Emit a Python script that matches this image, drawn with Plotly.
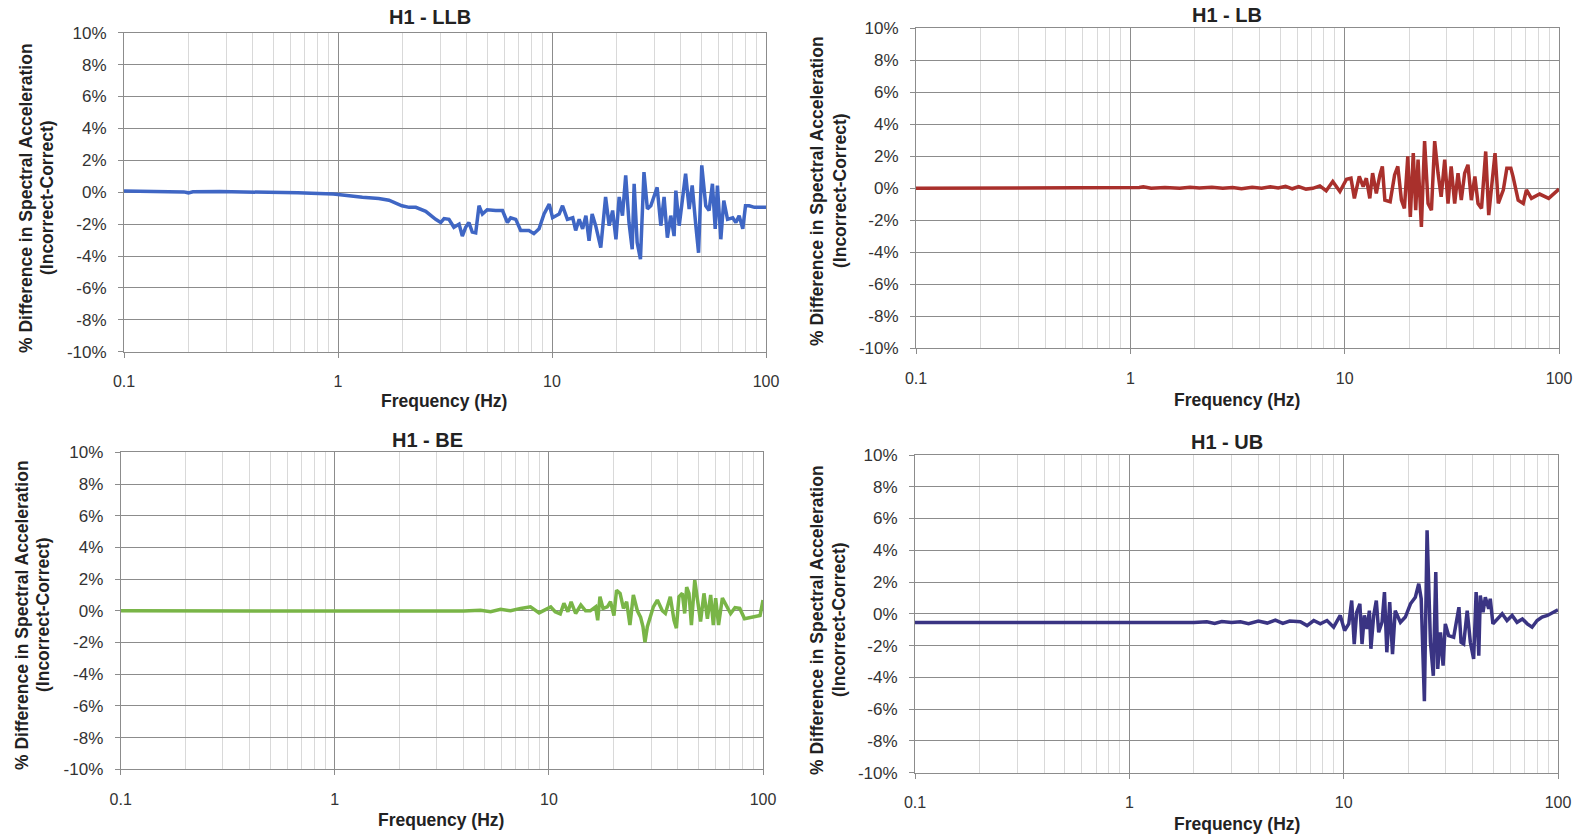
import plotly.graph_objects as go

W, H = 1583, 837

# ---------------- data: % difference in spectral acceleration vs frequency ----------------
llb_freq = [0.1, 0.13, 0.17, 0.19, 0.2, 0.21, 0.28, 0.33, 0.35, 0.37, 0.45, 0.55, 0.65, 0.75, 0.85,
            0.95, 1.0, 1.08, 1.13, 1.3, 1.55, 1.73, 1.99, 2.15, 2.31, 2.57, 2.86, 3.02, 3.13, 3.3,
            3.48, 3.68, 3.81, 3.95, 4.09, 4.24, 4.40, 4.56, 4.73, 4.98, 5.46, 5.87, 6.19, 6.41, 6.77,
            7.14, 7.80, 8.23, 8.70, 9.18, 9.71, 10.06, 10.8, 11.2, 11.8, 12.5, 12.9, 13.4, 13.9, 14.4,
            14.9, 15.4, 16.0, 16.9, 17.8, 18.5, 19.2, 19.9, 20.6, 21.35, 22.1, 22.9, 23.7, 24.2, 25.0,
            25.9, 26.9, 27.9, 28.96, 30.0, 31.0, 32.25, 33.4, 34.6, 35.9, 37.2, 37.9, 39.3, 40.7, 42.1,
            43.75, 45.2, 47.0, 48.4, 50.1, 52.3, 54.2, 56.2, 57.9, 59.3, 61.5, 63.5, 66.1, 69.9, 72.3,
            74.9, 77.9, 80.2, 83.5, 88.3, 100]
llb_diff = [0.08, 0.06, 0.05, 0.02, -0.04, 0.03, 0.04, 0.03, -0.02, 0.03, -0.01, -0.02, -0.04, -0.07, -0.08,
            -0.12, -0.15, -0.2, -0.28, -0.32, -0.4, -0.5, -0.85, -0.95, -0.95, -1.2, -1.7, -1.9, -1.65, -1.7,
            -2.2, -2.0, -2.75, -2.2, -1.9, -2.5, -2.55, -0.85, -1.37, -1.1, -1.15, -1.15, -1.9, -1.6, -1.7,
            -2.4, -2.4, -2.6, -2.3, -1.37, -0.75, -1.6, -1.37, -0.85, -1.7, -1.6, -2.4, -1.7, -2.3, -1.47,
            -3.05, -1.37, -2.1, -3.47, -0.3, -2.1, -1.15, -2.95, -0.3, -1.47, 1.05, -1.9, -3.58, 0.53, -3.16,
            -4.2, 1.26, -1.05, -0.85, -0.2, 0.3, -2.1, -0.3, -2.85, -1.47, -2.75, 0.1, -2.1, -0.63, 1.16,
            -1.05, 0.42, -2.1, -3.8, 1.68, -0.85, -1.15, 0.53, -2.3, 0.42, -2.95, -0.53, -1.7, -1.6, -1.9,
            -1.47, -2.3, -0.85, -0.85, -0.95, -0.95]

lb_freq = [0.1, 0.3, 0.6, 1.0, 1.1, 1.15, 1.25, 1.45, 1.7, 1.9, 2.1, 2.4, 2.7, 3.0, 3.3, 3.7, 4.1, 4.5,
           4.9, 5.3, 5.7, 6.1, 6.6, 7.1, 7.66, 8.2, 8.8, 9.5, 10.2, 10.7, 11.1, 11.7, 12.2, 12.62, 13.1,
           13.5, 14.05, 14.6, 14.99, 15.4, 16.3, 17.1, 17.7, 18.4, 19.0, 19.7, 20.25, 20.9, 21.45, 22.0,
           22.8, 23.6, 24.5, 25.4, 26.3, 27.26, 28.2, 29.3, 30.35, 31.4, 32.6, 33.8, 35.0, 36.3, 37.6,
           39.0, 40.5, 41.9, 43.5, 45.5, 47.0, 50.3, 52.1, 55.0, 57.1, 59.6, 61.0, 64.5, 68.1, 70.5,
           74.4, 81.2, 86.1, 89.5, 100]
lb_diff = [0.0, 0.0, 0.0, 0.0, 0.05, 0.1, 0.0, 0.05, 0.0, 0.06, 0.02, 0.06, 0.0, 0.05, -0.02, 0.06, 0.0, 0.1,
           0.02, 0.12, -0.03, 0.1, -0.05, 0.0, 0.15, -0.15, 0.42, -0.2, 0.57, 0.63, -0.63, 0.74, 0.1, 0.63, -0.63,
           0.95, -0.32, 0.84, 1.37, -0.74, -0.84, 0.84, 1.37, -0.74, -1.26, 2.0, -1.79, 2.2, -1.37, 1.79,
           -2.42, 2.95, -0.95, -1.37, 2.95, 0.95, -0.53, 1.79, -0.95, 1.37, -0.95, 0.95, -0.74, 0.95, 1.47,
           -0.74, 0.74, -0.95, -1.26, 2.3, -1.68, 2.2, -0.95, -0.1, 1.26, 1.26, 0.74, -0.74, -0.95, -0.1,
           -0.63, -0.36, -0.5, -0.63, -0.05]

be_freq = [0.1, 0.5, 1.0, 2.0, 3.0, 3.5, 4.0, 4.79, 5.34, 5.95, 6.63, 7.38, 8.2, 9.0, 9.65, 10.2, 10.7,
           11.3, 11.75, 12.27, 12.7, 13.33, 14.1, 14.84, 15.6, 16.53, 16.9, 17.32, 17.9, 18.74, 19.4,
           20.13, 20.7, 21.5, 22.3, 23.07, 23.9, 24.8, 25.9, 26.8, 27.5, 28.1, 28.83, 29.6, 30.75, 32.1,
           33.87, 35.0, 36.13, 36.9, 38.4, 39.4, 40.5, 42.0, 43.07, 44.0, 45.1, 46.3, 48.0, 49.35, 51.1,
           53.0, 55.0, 56.96, 58.6, 60.1, 62.0, 64.6, 66.5, 70.6, 74.0, 77.9, 82.0, 88.9, 96.9, 100]
be_diff = [0.0, 0.0, 0.0, 0.0, 0.0, 0.03, -0.02, 0.04, -0.06, 0.09, 0.0, 0.15, 0.25, -0.13, 0.09, 0.25, -0.06,
           -0.2, 0.47, -0.06, 0.57, -0.17, 0.36, 0.0, 0.0, 0.25, -0.6, 0.89, 0.15, 0.25, 0.57,
           -0.3, 1.3, 1.1, 0.15, 0.57, -0.9, 1.0, 0.0, -0.4, -1.0, -1.98, -1.0, -0.5, 0.25, 0.68,
           0.0, -0.17, 0.57, 0.89, -0.6, -1.1, 0.89, 1.1, -0.17, 1.5, 1.1, -0.9, 1.93, 0.68, -0.68,
           1.1, -0.5, 1.0, -0.9, 0.8, -0.9, 0.8, 0.47, -0.17, 0.2, 0.15, -0.5, -0.4, -0.3, 0.68]

ub_freq = [0.1, 0.5, 1.0, 1.5, 2.0, 2.3, 2.5, 2.7, 3.0, 3.3, 3.6, 4.0, 4.4, 4.8, 5.2, 5.6, 6.28, 6.75,
           7.25, 7.78, 8.36, 8.98, 9.64, 10.1, 10.56, 10.9, 11.2, 11.5, 11.9, 12.18, 12.49, 12.85, 13.18,
           13.4, 13.81, 14.2, 14.57, 15.1, 15.5, 15.9, 16.4, 16.9, 17.4, 18.4, 19.4, 20.5, 21.6, 22.4,
           23.0, 23.8, 24.5, 25.4, 26.2, 26.9, 27.47, 28.3, 29.1, 29.8, 30.9, 32.6, 34.5, 35.3, 36.3,
           37.7, 39.0, 40.4, 41.5, 42.7, 43.4, 44.7, 45.8, 47.5, 48.3, 49.7, 52.0, 54.9, 57.8, 61.1,
           64.4, 68.2, 71.9, 75.7, 79.9, 84.3, 89.3, 100]
ub_diff = [-0.55, -0.55, -0.55, -0.56, -0.55, -0.5, -0.6, -0.48, -0.55, -0.5, -0.62, -0.45, -0.58, -0.4,
           -0.6, -0.45, -0.5, -0.74, -0.42, -0.63, -0.42, -0.84, -0.1, -1.05, -0.63, 0.84, -1.9, 0.1, 0.63,
           -1.9, -0.1, -0.95, 0.2, -2.2, -0.1, 0.84, -1.16, -0.53, 1.37, -2.42, 0.74, -2.53, 0.2, -0.53,
           -0.2, 0.63, 1.05, 1.9, 0.95, -5.5, 5.26, -1.79, -3.9, 2.63, -3.47, -1.16, -3.26, -0.63, -1.37,
           -1.47, 0.42, -1.79, -1.9, 0.2, -1.79, -2.84, 1.37, -2.63, 1.16, 0.1, 1.05, 0.32, 0.95, -0.63,
           -0.32, 0.0, -0.42, -0.1, -0.53, -0.32, -0.63, -0.84, -0.42, -0.2, -0.1, 0.25]

y_ticks = [-10, -8, -6, -4, -2, 0, 2, 4, 6, 8, 10]
y_tick_labels = [f"{v}%" for v in y_ticks]
x_ticks = [0.1, 1, 10, 100]
x_tick_labels = ["0.1", "1", "10", "100"]
x_minor = [k * 10.0 ** e for e in (-1, 0, 1) for k in range(2, 10)]

chart_titles = ["H1 - LLB", "H1 - LB", "H1 - BE", "H1 - UB"]
y_title_lines = ["% Difference in Spectral Acceleration", "(Incorrect-Correct)"]
x_title = "Frequency (Hz)"

# ---------------- panel geometry (pixels) ----------------
panels = [
    dict(freq=llb_freq, diff=llb_diff, color="#3F66C4",
         box=(124, 766, 32.7, 351.7), title=(430, 17), xlab=(444, 401), ylab=(26, 47, 198)),
    dict(freq=lb_freq, diff=lb_diff, color="#A9302C",
         box=(916, 1559, 28.3, 348.3), title=(1227, 15), xlab=(1237, 400), ylab=(817, 840, 191)),
    dict(freq=be_freq, diff=be_diff, color="#79B547",
         box=(120.7, 763, 452.3, 769.3), title=(428, 440), xlab=(441, 820), ylab=(22, 43, 615)),
    dict(freq=ub_freq, diff=ub_diff, color="#3A3483",
         box=(915, 1558, 455, 772.7), title=(1227, 442), xlab=(1237, 824), ylab=(817, 839, 620)),
]

FONT = "Liberation Sans, Arial, sans-serif"
GRID = "#8c8c8c"
MINOR_GRID = "#d9d9d9"

fig = go.Figure()
layout = dict(
    template="none",
    width=W, height=H, autosize=False,
    margin=dict(l=0, r=0, t=0, b=0, pad=0),
    paper_bgcolor="white", plot_bgcolor="white",
    showlegend=False,
    font=dict(family=FONT, color="#333333"),
    annotations=[],
)

def px_x(x):
    return x / W

def px_y(y):
    return 1 - y / H

for i, p in enumerate(panels, start=1):
    sfx = "" if i == 1 else str(i)
    x0, x1, y0, y1 = p["box"]
    fig.add_trace(go.Scatter(
        x=p["freq"], y=p["diff"], mode="lines",
        line=dict(color=p["color"], width=3.5),
        xaxis="x" + sfx, yaxis="y" + sfx, hoverinfo="x+y",
    ))
    layout["xaxis" + sfx] = dict(
        type="log", range=[-1, 2], domain=[px_x(x0), px_x(x1)],
        anchor="y" + sfx, automargin=False,
        tickvals=x_ticks, ticktext=x_tick_labels,
        ticks="outside", ticklen=5, tickcolor=GRID, ticklabelstandoff=10,
        tickfont=dict(size=16, family=FONT, color="#333333"),
        showgrid=True, gridcolor=GRID, gridwidth=1,
        minor=dict(tickvals=x_minor, showgrid=True, gridcolor=MINOR_GRID, gridwidth=1, ticks=""),
        showline=True, linecolor=GRID, linewidth=1, mirror=True,
        zeroline=False, fixedrange=True,
    )
    layout["yaxis" + sfx] = dict(
        range=[-10, 10], domain=[px_y(y1), px_y(y0)],
        anchor="x" + sfx, automargin=False,
        tickvals=y_ticks, ticktext=y_tick_labels,
        ticks="outside", ticklen=5, tickcolor=GRID, ticklabelstandoff=8,
        tickfont=dict(size=17, family=FONT, color="#333333"),
        showgrid=True, gridcolor=GRID, gridwidth=1,
        showline=True, linecolor=GRID, linewidth=1, mirror=True,
        zeroline=False, fixedrange=True,
    )
    tx, ty = p["title"]
    layout["annotations"].append(dict(
        text=f"<b>{chart_titles[i - 1]}</b>", x=px_x(tx), y=px_y(ty), xref="paper", yref="paper",
        xanchor="center", yanchor="middle", showarrow=False,
        font=dict(size=20, family=FONT, color="#222222"),
    ))
    lx, ly = p["xlab"]
    layout["annotations"].append(dict(
        text=f"<b>{x_title}</b>", x=px_x(lx), y=px_y(ly), xref="paper", yref="paper",
        xanchor="center", yanchor="middle", showarrow=False,
        font=dict(size=17.5, family=FONT, color="#222222"),
    ))
    ya, yb, yc = p["ylab"]
    for line_x, line_text in zip((ya, yb), y_title_lines):
        layout["annotations"].append(dict(
            text=f"<b>{line_text}</b>", x=px_x(line_x), y=px_y(yc), xref="paper", yref="paper",
            xanchor="center", yanchor="middle", textangle=-90, showarrow=False,
            font=dict(size=17.5, family=FONT, color="#222222"),
        ))

fig.update_layout(**layout)
fig.write_html("out.html")
